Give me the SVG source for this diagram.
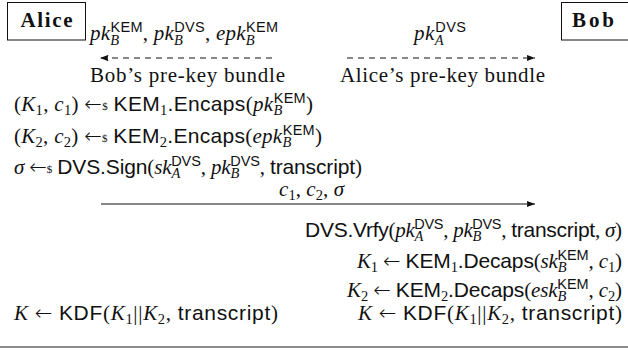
<svg xmlns="http://www.w3.org/2000/svg" width="628" height="351" viewBox="0 0 628 351">
<style>
.t{font-family:"Liberation Serif","DejaVu Serif",serif;font-size:21px;fill:#111}
.i{font-style:italic}
.sf{font-family:"Liberation Sans","DejaVu Sans",sans-serif}
.s{font-size:14.5px}
.d{font-size:11px}
.b{font-weight:bold}
.ar{font-family:"DejaVu Sans",sans-serif;font-weight:200}
.box{fill:#fff;stroke:#111;stroke-width:1}
.ln{stroke:#111;stroke-width:1;fill:none}
.dash{stroke-dasharray:6 5}
</style>
<defs>
<marker id="ah" markerUnits="userSpaceOnUse" markerWidth="9" markerHeight="7" refX="8.5" refY="3.5" orient="auto">
<path d="M0,0.3 L8.5,3.5 L0,6.7 Q1.5,3.5 0,0.3 z" fill="#111"/>
</marker>
</defs>
<rect width="628" height="351" fill="#fff"/>

<g id="alice">
<rect class="box" x="7.5" y="2.5" width="78" height="37.5"/>
<text class="t b" x="46.5" y="27" text-anchor="middle" textLength="52" lengthAdjust="spacing">Alice</text>
</g>
<g id="bob">
<rect class="box" x="561.5" y="2.5" width="80" height="37.5"/>
<text class="t b" x="572" y="27" textLength="42" lengthAdjust="spacing">Bob</text>
</g>

<g id="connectors">
<line class="ln dash" x1="272" y1="58" x2="100" y2="58" marker-end="url(#ah)"/>
<line class="ln dash" x1="347" y1="58" x2="535" y2="58" marker-end="url(#ah)"/>
<line class="ln" x1="101" y1="204" x2="535" y2="204" stroke-width="1.2" marker-end="url(#ah)"/>
</g>

<g id="connector-labels">
<text class="t" x="90" y="40" textLength="188" lengthAdjust="spacing"><tspan class="i">pk</tspan><tspan class="i s" dy="5">B</tspan><tspan class="sf s" dx="-8.9" dy="-13">KEM</tspan><tspan dy="8">, </tspan><tspan class="i">pk</tspan><tspan class="i s" dy="5">B</tspan><tspan class="sf s" dx="-8.9" dy="-13">DVS</tspan><tspan dy="8">, </tspan><tspan class="i">epk</tspan><tspan class="i s" dy="5">B</tspan><tspan class="sf s" dx="-8.9" dy="-13">KEM</tspan></text>
<text class="t" x="90" y="82" textLength="195" lengthAdjust="spacing">Bob’s pre-key bundle</text>
<text class="t" x="414" y="40" textLength="52" lengthAdjust="spacing"><tspan class="i">pk</tspan><tspan class="i s" dy="5">A</tspan><tspan class="sf s" dx="-8.9" dy="-13">DVS</tspan></text>
<text class="t" x="340" y="82" textLength="205" lengthAdjust="spacing">Alice’s pre-key bundle</text>
<text class="t" x="279" y="196" textLength="65" lengthAdjust="spacing"><tspan class="i">c</tspan><tspan class="s" dy="4">1</tspan><tspan dy="-4">, </tspan><tspan class="i">c</tspan><tspan class="s" dy="4">2</tspan><tspan dy="-4">, </tspan><tspan class="i">σ</tspan></text>
</g>

<g id="alice-steps">
<text class="t" x="14" y="111" textLength="299" lengthAdjust="spacing">(<tspan class="i">K</tspan><tspan class="s" dy="4">1</tspan><tspan dy="-4">, </tspan><tspan class="i">c</tspan><tspan class="s" dy="4">1</tspan><tspan dy="-4">) </tspan><tspan class="ar">←</tspan><tspan class="d" dy="-1">$</tspan><tspan dy="1"> </tspan><tspan class="sf">KEM</tspan><tspan class="s" dy="4">1</tspan><tspan class="sf" dy="-4">.Encaps</tspan>(<tspan class="i">pk</tspan><tspan class="i s" dy="4">B</tspan><tspan class="sf s" dx="-8.9" dy="-12">KEM</tspan><tspan dy="8">)</tspan></text>
<text class="t" x="14" y="142.5" textLength="308" lengthAdjust="spacing">(<tspan class="i">K</tspan><tspan class="s" dy="4">2</tspan><tspan dy="-4">, </tspan><tspan class="i">c</tspan><tspan class="s" dy="4">2</tspan><tspan dy="-4">) </tspan><tspan class="ar">←</tspan><tspan class="d" dy="-1">$</tspan><tspan dy="1"> </tspan><tspan class="sf">KEM</tspan><tspan class="s" dy="4">2</tspan><tspan class="sf" dy="-4">.Encaps</tspan>(<tspan class="i">epk</tspan><tspan class="i s" dy="4">B</tspan><tspan class="sf s" dx="-8.9" dy="-12">KEM</tspan><tspan dy="8">)</tspan></text>
<text class="t" x="14" y="174" textLength="348" lengthAdjust="spacing"><tspan class="i">σ</tspan> <tspan class="ar">←</tspan><tspan class="d" dy="-1">$</tspan><tspan dy="1"> </tspan><tspan class="sf">DVS.Sign</tspan>(<tspan class="i">sk</tspan><tspan class="i s" dy="4">A</tspan><tspan class="sf s" dx="-8.9" dy="-12">DVS</tspan><tspan dy="8">, </tspan><tspan class="i">pk</tspan><tspan class="i s" dy="4">B</tspan><tspan class="sf s" dx="-8.9" dy="-12">DVS</tspan><tspan dy="8">, </tspan><tspan class="sf">transcript</tspan>)</text>
<text class="t" x="14" y="320" textLength="264" lengthAdjust="spacing"><tspan class="i">K</tspan> <tspan class="ar">←</tspan> <tspan class="sf">KDF</tspan>(<tspan class="i">K</tspan><tspan class="s" dy="4">1</tspan><tspan dy="-4">||</tspan><tspan class="i">K</tspan><tspan class="s" dy="4">2</tspan><tspan dy="-4">, </tspan><tspan class="sf">transcript</tspan>)</text>
</g>

<g id="bob-steps">
<text class="t" x="305" y="237" textLength="317" lengthAdjust="spacing"><tspan class="sf">DVS.Vrfy</tspan>(<tspan class="i">pk</tspan><tspan class="i s" dy="4">A</tspan><tspan class="sf s" dx="-8.9" dy="-12">DVS</tspan><tspan dy="8">, </tspan><tspan class="i">pk</tspan><tspan class="i s" dy="4">B</tspan><tspan class="sf s" dx="-8.9" dy="-12">DVS</tspan><tspan dy="8">, </tspan><tspan class="sf">transcript</tspan>, <tspan class="i">σ</tspan>)</text>
<text class="t" x="357" y="268" textLength="265" lengthAdjust="spacing"><tspan class="i">K</tspan><tspan class="s" dy="4">1</tspan><tspan dy="-4"> </tspan><tspan class="ar">←</tspan> <tspan class="sf">KEM</tspan><tspan class="s" dy="4">1</tspan><tspan class="sf" dy="-4">.Decaps</tspan>(<tspan class="i">sk</tspan><tspan class="i s" dy="4">B</tspan><tspan class="sf s" dx="-8.9" dy="-12">KEM</tspan><tspan dy="8">, </tspan><tspan class="i">c</tspan><tspan class="s" dy="4">1</tspan><tspan dy="-4">)</tspan></text>
<text class="t" x="347" y="297" textLength="275" lengthAdjust="spacing"><tspan class="i">K</tspan><tspan class="s" dy="4">2</tspan><tspan dy="-4"> </tspan><tspan class="ar">←</tspan> <tspan class="sf">KEM</tspan><tspan class="s" dy="4">2</tspan><tspan class="sf" dy="-4">.Decaps</tspan>(<tspan class="i">esk</tspan><tspan class="i s" dy="4">B</tspan><tspan class="sf s" dx="-8.9" dy="-12">KEM</tspan><tspan dy="8">, </tspan><tspan class="i">c</tspan><tspan class="s" dy="4">2</tspan><tspan dy="-4">)</tspan></text>
<text class="t" x="358" y="320" textLength="264" lengthAdjust="spacing"><tspan class="i">K</tspan> <tspan class="ar">←</tspan> <tspan class="sf">KDF</tspan>(<tspan class="i">K</tspan><tspan class="s" dy="4">1</tspan><tspan dy="-4">||</tspan><tspan class="i">K</tspan><tspan class="s" dy="4">2</tspan><tspan dy="-4">, </tspan><tspan class="sf">transcript</tspan>)</text>
</g>

<line id="rule" x1="0" y1="347" x2="628" y2="347" stroke="#666" stroke-width="1.6"/>
</svg>
